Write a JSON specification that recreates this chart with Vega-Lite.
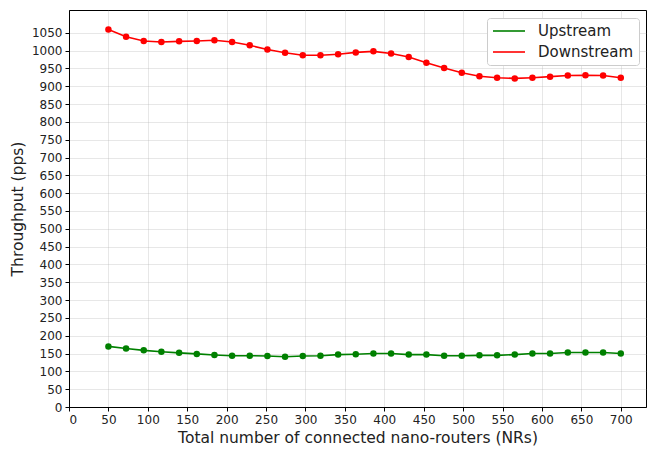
{
  "$schema": "https://vega.github.io/schema/vega-lite/v6.json",
  "width": 577,
  "height": 397,
  "autosize": {"type": "none"},
  "padding": {"left": 69, "top": 10, "right": 2, "bottom": 43},
  "background": "white",
  "config": {
    "font": "DejaVu Sans",
    "view": {"stroke": "#000000", "strokeWidth": 1},
    "axis": {
      "grid": true,
      "gridColor": "#b0b0b0",
      "gridOpacity": 0.3,
      "gridWidth": 1,
      "domainColor": "#000000",
      "tickColor": "#000000",
      "tickSize": 4,
      "labelFontSize": 12,
      "labelColor": "#222222",
      "labelPadding": 3,
      "titleFontSize": 15.5,
      "titleFontWeight": "normal",
      "titleColor": "#222222"
    }
  },
  "data": {
    "values": [
      {"nr": 50.0, "series": "Downstream", "pps": 1059},
      {"nr": 72.4, "series": "Downstream", "pps": 1039},
      {"nr": 94.8, "series": "Downstream", "pps": 1027},
      {"nr": 117.2, "series": "Downstream", "pps": 1024},
      {"nr": 139.7, "series": "Downstream", "pps": 1026},
      {"nr": 162.1, "series": "Downstream", "pps": 1027},
      {"nr": 184.5, "series": "Downstream", "pps": 1029},
      {"nr": 206.9, "series": "Downstream", "pps": 1024},
      {"nr": 229.3, "series": "Downstream", "pps": 1015},
      {"nr": 251.7, "series": "Downstream", "pps": 1003},
      {"nr": 274.1, "series": "Downstream", "pps": 994},
      {"nr": 296.6, "series": "Downstream", "pps": 987},
      {"nr": 319.0, "series": "Downstream", "pps": 987},
      {"nr": 341.4, "series": "Downstream", "pps": 990},
      {"nr": 363.8, "series": "Downstream", "pps": 995},
      {"nr": 386.2, "series": "Downstream", "pps": 998},
      {"nr": 408.6, "series": "Downstream", "pps": 992},
      {"nr": 431.0, "series": "Downstream", "pps": 982},
      {"nr": 453.4, "series": "Downstream", "pps": 966},
      {"nr": 475.9, "series": "Downstream", "pps": 951},
      {"nr": 498.3, "series": "Downstream", "pps": 938},
      {"nr": 520.7, "series": "Downstream", "pps": 928},
      {"nr": 543.1, "series": "Downstream", "pps": 924},
      {"nr": 565.5, "series": "Downstream", "pps": 922},
      {"nr": 587.9, "series": "Downstream", "pps": 924},
      {"nr": 610.3, "series": "Downstream", "pps": 927},
      {"nr": 632.8, "series": "Downstream", "pps": 930},
      {"nr": 655.2, "series": "Downstream", "pps": 931},
      {"nr": 677.6, "series": "Downstream", "pps": 930},
      {"nr": 700.0, "series": "Downstream", "pps": 924},
      {"nr": 50.0, "series": "Upstream", "pps": 170},
      {"nr": 72.4, "series": "Upstream", "pps": 164},
      {"nr": 94.8, "series": "Upstream", "pps": 159},
      {"nr": 117.2, "series": "Upstream", "pps": 155},
      {"nr": 139.7, "series": "Upstream", "pps": 152},
      {"nr": 162.1, "series": "Upstream", "pps": 149},
      {"nr": 184.5, "series": "Upstream", "pps": 146},
      {"nr": 206.9, "series": "Upstream", "pps": 144},
      {"nr": 229.3, "series": "Upstream", "pps": 144},
      {"nr": 251.7, "series": "Upstream", "pps": 143},
      {"nr": 274.1, "series": "Upstream", "pps": 141},
      {"nr": 296.6, "series": "Upstream", "pps": 143},
      {"nr": 319.0, "series": "Upstream", "pps": 144},
      {"nr": 341.4, "series": "Upstream", "pps": 147},
      {"nr": 363.8, "series": "Upstream", "pps": 148},
      {"nr": 386.2, "series": "Upstream", "pps": 150},
      {"nr": 408.6, "series": "Upstream", "pps": 150},
      {"nr": 431.0, "series": "Upstream", "pps": 147},
      {"nr": 453.4, "series": "Upstream", "pps": 147},
      {"nr": 475.9, "series": "Upstream", "pps": 144},
      {"nr": 498.3, "series": "Upstream", "pps": 144},
      {"nr": 520.7, "series": "Upstream", "pps": 145},
      {"nr": 543.1, "series": "Upstream", "pps": 145},
      {"nr": 565.5, "series": "Upstream", "pps": 147},
      {"nr": 587.9, "series": "Upstream", "pps": 150},
      {"nr": 610.3, "series": "Upstream", "pps": 150},
      {"nr": 632.8, "series": "Upstream", "pps": 153},
      {"nr": 655.2, "series": "Upstream", "pps": 153},
      {"nr": 677.6, "series": "Upstream", "pps": 153},
      {"nr": 700.0, "series": "Upstream", "pps": 150}
    ]
  },
  "encoding": {
    "x": {
      "field": "nr",
      "type": "quantitative",
      "scale": {"domain": [0, 732], "nice": false, "zero": false},
      "axis": {
        "title": "Total number of connected nano-routers (NRs)",
        "format": "d",
        "values": [0, 50, 100, 150, 200, 250, 300, 350, 400, 450, 500, 550, 600, 650, 700],
        "titlePadding": 5
      }
    },
    "y": {
      "field": "pps",
      "type": "quantitative",
      "scale": {"domain": [0, 1114], "nice": false},
      "axis": {
        "title": "Throughput (pps)",
        "format": "d",
        "values": [0, 50, 100, 150, 200, 250, 300, 350, 400, 450, 500, 550, 600, 650, 700, 750, 800, 850, 900, 950, 1000, 1050],
        "titlePadding": 6
      }
    }
  },
  "layer": [
    {
      "mark": {"type": "line", "strokeWidth": 1.6},
      "encoding": {
        "color": {
          "field": "series",
          "type": "nominal",
          "scale": {"domain": ["Upstream", "Downstream"], "range": ["#008000", "#ff0000"]},
          "legend": {
            "title": null,
            "orient": "none",
            "legendX": 418,
            "legendY": 8,
            "symbolType": "stroke",
            "symbolSize": 1024,
            "symbolStrokeWidth": 1.6,
            "clipHeight": 16,
            "labelFontSize": 15,
            "labelColor": "#222222",
            "labelOffset": 12,
            "rowPadding": 5,
            "padding": 5,
            "fillColor": "white",
            "strokeColor": "#cccccc",
            "cornerRadius": 3
          }
        }
      }
    },
    {
      "mark": {"type": "point", "filled": true, "opacity": 1, "size": 42},
      "encoding": {
        "color": {
          "field": "series",
          "type": "nominal",
          "scale": {"domain": ["Upstream", "Downstream"], "range": ["#008000", "#ff0000"]},
          "legend": null
        }
      }
    }
  ]
}
